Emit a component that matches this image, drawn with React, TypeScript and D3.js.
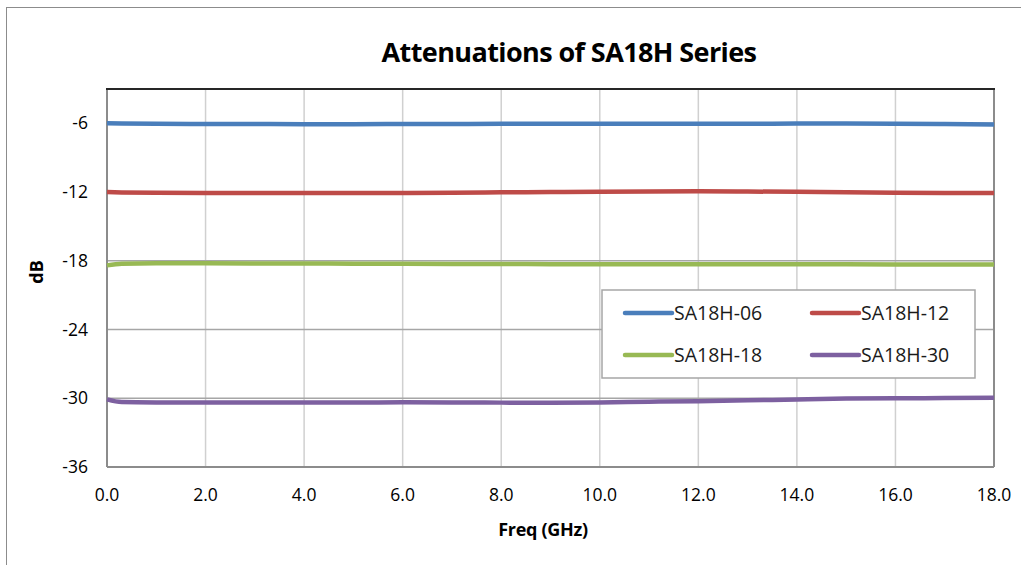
import React from "react";
import * as d3 from "d3";

const freqs = [0, 0.3, 1, 2, 3, 4, 5, 6, 7, 8, 9, 10, 11, 12, 13, 14, 15, 16, 17, 18];
const sa06 = [-6.0, -6.02, -6.04, -6.05, -6.06, -6.07, -6.07, -6.06, -6.05, -6.04, -6.04, -6.04, -6.04, -6.03, -6.03, -6.02, -6.02, -6.03, -6.06, -6.1];
const sa12 = [-12.0, -12.03, -12.06, -12.08, -12.08, -12.08, -12.08, -12.07, -12.05, -12.02, -11.99, -11.96, -11.94, -11.93, -11.95, -11.98, -12.02, -12.05, -12.07, -12.08];
const sa18 = [-18.4, -18.25, -18.22, -18.22, -18.23, -18.24, -18.25, -18.26, -18.27, -18.28, -18.29, -18.3, -18.3, -18.3, -18.3, -18.31, -18.31, -18.32, -18.32, -18.32];
const sa30 = [-30.1, -30.33, -30.36, -30.37, -30.37, -30.36, -30.37, -30.35, -30.36, -30.38, -30.4, -30.37, -30.3, -30.25, -30.18, -30.1, -30.03, -30.0, -29.98, -29.95];

const seriesNames = ["SA18H-06", "SA18H-12", "SA18H-18", "SA18H-30"];
const seriesColors = ["#4a7ebb", "#be4b48", "#98b954", "#7d60a0"];
const seriesData = [sa06, sa12, sa18, sa30];
const yTicks = [-6, -12, -18, -24, -30, -36];
const xTicks = [0, 2, 4, 6, 8, 10, 12, 14, 16, 18];

const FONT = "'Open Sans', 'Liberation Sans', sans-serif";

export default function App() {
  const left = 107, right = 994, top = 89, bottom = 467;
  const x = d3.scaleLinear().domain([0, 18]).range([left, right]);
  const y = d3.scaleLinear().domain([-36, -3]).range([bottom, top]);
  const line = d3.line<number>().x((_, i) => x(freqs[i])).y((d) => y(d)).curve(d3.curveMonotoneX);

  const legendX = 602, legendY = 290, legendW = 373, legendH = 88;
  const legendItems = seriesNames.map((n, i) => ({
    name: n,
    color: seriesColors[i],
    lx: i % 2 === 0 ? 625 : 812,
    ly: i < 2 ? 313 : 355,
  }));

  return (
    <svg width={1021} height={565} style={{ position: "absolute", left: 0, top: 0, background: "#fff" }}>
      <rect x={6.5} y={7.5} width={1030} height={570} fill="#fff" stroke="#8c8c8c" strokeWidth={1} />
      <text x={569} y={62} textAnchor="middle" fontFamily={FONT} fontWeight="bold" fontSize={27} fill="#000" letterSpacing={-0.6}>
        Attenuations of SA18H Series
      </text>
      {xTicks.map((t) => (
        <line key={"gx" + t} x1={x(t)} x2={x(t)} y1={top} y2={bottom} stroke="#d0d0d0" strokeWidth={1.5} />
      ))}
      {yTicks.map((t) => (
        <line key={"gy" + t} x1={left} x2={right} y1={y(t)} y2={y(t)} stroke="#a6a6a6" strokeWidth={1.5} />
      ))}
      <line x1={left} x2={left} y1={top} y2={bottom} stroke="#8c8c8c" strokeWidth={2} />
      <line x1={right} x2={right} y1={top} y2={bottom} stroke="#8c8c8c" strokeWidth={2} />
      <line x1={left} x2={right} y1={bottom} y2={bottom} stroke="#8c8c8c" strokeWidth={2} />
      <line x1={left - 1} x2={right + 1} y1={top} y2={top} stroke="#262626" strokeWidth={2} />
      {yTicks.map((t) => (
        <text key={"ty" + t} x={88} y={y(t) + 6} textAnchor="end" fontFamily={FONT} fontSize={17.5} fill="#000">
          {t}
        </text>
      ))}
      {xTicks.map((t) => (
        <text key={"tx" + t} x={x(t)} y={501} textAnchor="middle" fontFamily={FONT} fontSize={17.5} fill="#000">
          {t.toFixed(1)}
        </text>
      ))}
      <text transform="translate(43,272) rotate(-90)" textAnchor="middle" fontFamily={FONT} fontWeight="bold" fontSize={18} fill="#000">
        dB
      </text>
      <text x={543} y={536} textAnchor="middle" fontFamily={FONT} fontWeight="bold" fontSize={18} fill="#000" letterSpacing={-0.3}>
        Freq (GHz)
      </text>
      {seriesData.map((s, i) => (
        <path key={"s" + i} d={line(s) || ""} fill="none" stroke={seriesColors[i]} strokeWidth={4.5} strokeLinecap="butt" />
      ))}
      <rect x={legendX} y={legendY} width={legendW} height={legendH} fill="#fff" stroke="#a6a6a6" strokeWidth={1.5} />
      {legendItems.map((it) => (
        <g key={it.name}>
          <line x1={it.lx} x2={it.lx + 47} y1={it.ly} y2={it.ly} stroke={it.color} strokeWidth={4.5} strokeLinecap="round" />
          <text x={it.lx + 49} y={it.ly + 7} fontFamily={FONT} fontSize={19.5} fill="#1a1a1a">
            {it.name}
          </text>
        </g>
      ))}
    </svg>
  );
}
